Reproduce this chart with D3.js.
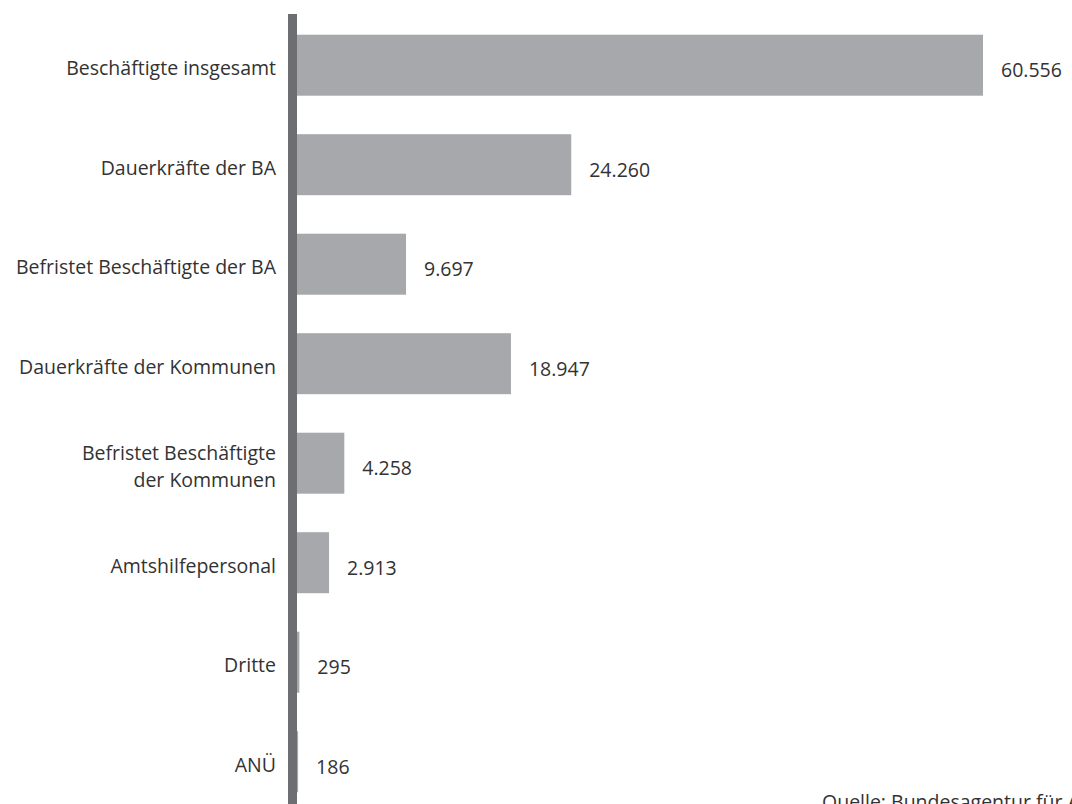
<!DOCTYPE html>
<html>
<head>
<meta charset="utf-8">
<script src="https://cdn.jsdelivr.net/npm/d3@7"></script>
<style>
  html, body { margin: 0; padding: 0; background: #fff; }
  svg { display: block; }
  text { font-family: "Open Sans", "Noto Sans", sans-serif; fill: #333233; }
</style>
</head>
<body>
<svg id="chart" width="1072" height="804"></svg>
<script>
// Personal in den Jobcentern nach Beschäftigungsart
const categories = [
  ["Beschäftigte insgesamt"],
  ["Dauerkräfte der BA"],
  ["Befristet Beschäftigte der BA"],
  ["Dauerkräfte der Kommunen"],
  ["Befristet Beschäftigte", "der Kommunen"],
  ["Amtshilfepersonal"],
  ["Dritte"],
  ["ANÜ"]
];
const values = [60556, 24260, 9697, 18947, 4258, 2913, 295, 186];
const valueLabels = ["60.556", "24.260", "9.697", "18.947", "4.258", "2.913", "295", "186"];
const sourceNote = "Quelle: Bundesagentur für Arbeit";

const svg = d3.select("#chart");
const W = 1072, H = 804;

const keys = categories.map(c => c.join(" "));
const x = d3.scaleLinear().domain([0, 60556]).range([296, 983]);
const y = d3.scaleBand().domain(keys).range([34.7, 792.2]).paddingInner(0.387).paddingOuter(0);

const fs = 19.5;

// bars
svg.append("g").selectAll("rect")
  .data(values)
  .join("rect")
  .attr("x", x(0))
  .attr("y", (d, i) => y(keys[i]))
  .attr("width", d => x(d) - x(0))
  .attr("height", y.bandwidth())
  .attr("fill", "#a7a8ab");

// vertical axis line
svg.append("rect")
  .attr("x", 288).attr("y", 14)
  .attr("width", 9).attr("height", H - 14)
  .attr("fill", "#6d6e72");

// category labels
const lab = svg.append("g").selectAll("text")
  .data(categories)
  .join("text")
  .attr("text-anchor", "end")
  .attr("font-size", fs)
  .attr("x", 276)
  .attr("y", (d, i) => y(keys[i]) + y.bandwidth() / 2 + 10 - (d.length - 1) * 13.5);
lab.selectAll("tspan")
  .data(d => d)
  .join("tspan")
  .attr("x", 276)
  .attr("dy", (d, j) => j === 0 ? 0 : 27)
  .text(d => d);

// value labels
svg.append("g").selectAll("text")
  .data(values)
  .join("text")
  .attr("font-size", fs)
  .attr("x", d => x(d) + 18)
  .attr("y", (d, i) => y(keys[i]) + y.bandwidth() / 2 + 12)
  .text((d, i) => valueLabels[i]);

// source note
svg.append("text")
  .attr("font-size", fs)
  .attr("x", 822)
  .attr("y", 809)
  .text(sourceNote);
</script>
</body>
</html>
